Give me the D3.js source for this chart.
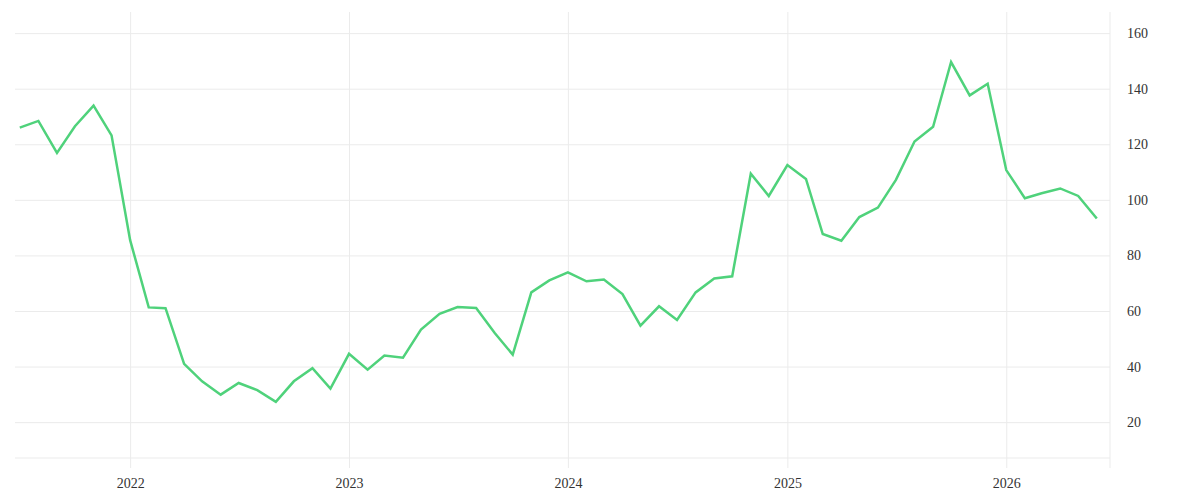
<!DOCTYPE html>
<html>
<head>
<meta charset="utf-8">
<script src="https://cdn.jsdelivr.net/npm/d3@7"></script>
<style>
  html, body { margin: 0; padding: 0; background: #fff; }
  svg text { font-family: "Liberation Serif", "DejaVu Serif", serif; fill: #333; }
</style>
</head>
<body>
<svg id="chart" width="1200" height="500"></svg>
<script>
// Monthly series, Jul 2021 .. Jun 2026
const startMonth = "2021-07";
const values = [
  126.0, 128.4, 116.9, 126.5, 133.9, 123.2,
  85.5, 61.3, 61.0, 41.0, 34.7, 29.9, 34.1, 31.5, 27.3, 34.7, 39.4, 32.1,
  44.6, 38.9, 44.0, 43.2, 53.3, 59.0, 61.4, 61.1, 52.1, 44.3, 66.7, 71.0,
  73.9, 70.7, 71.3, 66.1, 54.7, 61.7, 56.8, 66.7, 71.7, 72.5, 109.4, 101.4,
  112.5, 107.5, 87.7, 85.3, 93.8, 97.2, 107.2, 121.0, 126.3, 149.6, 137.6, 141.8,
  110.7, 100.6, 102.4, 104.1, 101.4, 93.3
];
const yTicks = [20, 40, 60, 80, 100, 120, 140, 160];
const xTickLabels = ["2022", "2023", "2024", "2025", "2026"];

const parseMonth = d3.timeParse("%Y-%m");
const start = parseMonth(startMonth);
const dates = values.map((v, i) => d3.timeMonth.offset(start, i));
const data = values.map((v, i) => ({ date: dates[i], value: v }));

const svg = d3.select("#chart");
const pLeft = 15, pRight = 1110, pTop = 12, pBottom = 458;

const x = d3.scaleTime()
  .domain([new Date(2021, 5, 23), new Date(2026, 5, 23)])
  .range([pLeft, pRight]);
const y = d3.scaleLinear()
  .domain([7.1, 167.6])
  .range([pBottom, pTop]);

const gridColor = "#ebebeb";

// horizontal gridlines
svg.append("g")
  .attr("transform", `translate(${pLeft},0)`)
  .call(d3.axisLeft(y).tickValues(yTicks).tickSize(-(pRight - pLeft)).tickFormat(""))
  .call(g => g.select(".domain").remove())
  .call(g => g.selectAll("line").attr("stroke", gridColor));

// bottom line
svg.append("line")
  .attr("x1", pLeft).attr("x2", pRight)
  .attr("y1", pBottom).attr("y2", pBottom)
  .attr("stroke", gridColor);

// vertical gridlines (extending slightly below the plot)
const xTickDates = xTickLabels.map(s => d3.timeParse("%Y")(s));
svg.append("g")
  .attr("transform", `translate(0,${pBottom + 10})`)
  .call(d3.axisBottom(x).tickValues(xTickDates).tickSize(-(pBottom + 10 - pTop)).tickFormat(""))
  .call(g => g.select(".domain").remove())
  .call(g => g.selectAll("line").attr("stroke", gridColor));

// right border
svg.append("line")
  .attr("x1", pRight).attr("x2", pRight)
  .attr("y1", pTop).attr("y2", pBottom + 10)
  .attr("stroke", gridColor);

// y labels on the right
svg.append("g")
  .attr("transform", `translate(${pRight},0)`)
  .call(d3.axisRight(y).tickValues(yTicks).tickSize(0).tickPadding(17).tickFormat(d3.format("d")))
  .call(g => g.select(".domain").remove())
  .call(g => g.selectAll("text").attr("font-size", 14).attr("fill", "#333")
    .style("font-family", '"Liberation Serif", "DejaVu Serif", serif'));

// x labels
svg.append("g")
  .attr("transform", `translate(0,${pBottom})`)
  .call(d3.axisBottom(x).tickValues(xTickDates).tickSize(0).tickPadding(20)
    .tickFormat((d, i) => xTickLabels[i]))
  .call(g => g.select(".domain").remove())
  .call(g => g.selectAll("text").attr("font-size", 14).attr("fill", "#333")
    .style("font-family", '"Liberation Serif", "DejaVu Serif", serif'));

// line
const line = d3.line().x(d => x(d.date)).y(d => y(d.value));
svg.append("path")
  .datum(data)
  .attr("fill", "none")
  .attr("stroke", "#4fd27b")
  .attr("stroke-width", 2.5)
  .attr("stroke-linejoin", "miter")
  .attr("d", line);
</script>
</body>
</html>
